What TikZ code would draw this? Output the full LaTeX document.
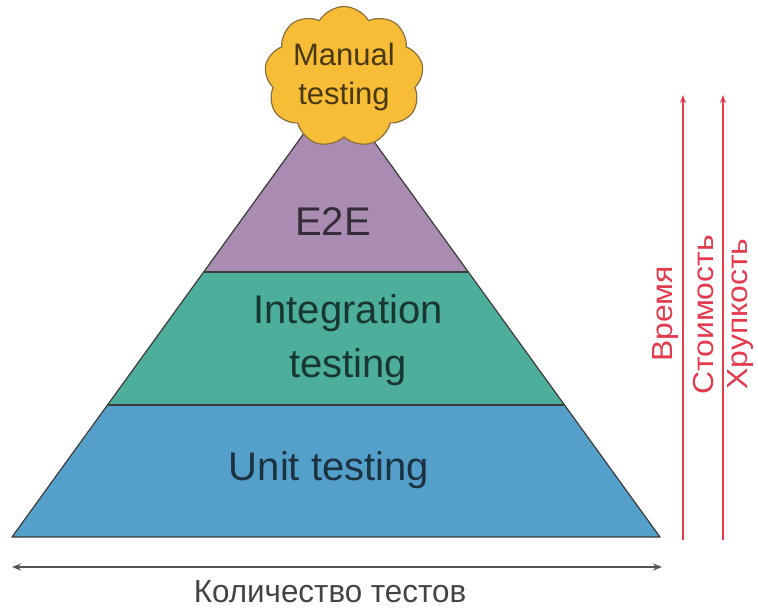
\documentclass[tikz,border=0pt]{standalone}
\usepackage{fontspec}
\setmainfont{Liberation Sans}
\usetikzlibrary{shapes.symbols,arrows.meta,calc}
\definecolor{e2ecol}{HTML}{AA8BB1}
\definecolor{intcol}{HTML}{4CAE9B}
\definecolor{unitcol}{HTML}{559FCB}
\definecolor{cloudfill}{HTML}{F8BD36}
\definecolor{clouddraw}{HTML}{8A6F3E}
\definecolor{edgecol}{HTML}{3C3C3C}
\definecolor{redcol}{HTML}{E33A4E}
\definecolor{graycol}{HTML}{555555}
\tikzset{
  band/.style={draw=edgecol, line width=1.2pt, line join=round},
  biglabel/.style={text=black, text opacity=0.68, font=\fontsize{40}{54}\selectfont, align=center, inner sep=0pt},
  redlabel/.style={text=redcol, font=\fontsize{29}{32}\selectfont, rotate=90, inner sep=0pt},
  redarrow/.style={draw=redcol, line width=1.6pt, -{Stealth[length=8pt,width=6pt]}},
  grayarrow/.style={draw=graycol, line width=2pt, {Stealth[length=9pt,width=7pt]}-{Stealth[length=9pt,width=7pt]}}
}
\begin{document}
\begin{tikzpicture}[x=1pt,y=-1pt]
\useasboundingbox (0,0) rectangle (758,610);
\coordinate (A) at (336,89);
\coordinate (BL) at (12,537);
\coordinate (BR) at (660,537);
\coordinate (L1) at ($(A)!0.4085!(BL)$);
\coordinate (R1) at ($(A)!0.4085!(BR)$);
\coordinate (L2) at ($(A)!0.7054!(BL)$);
\coordinate (R2) at ($(A)!0.7054!(BR)$);
% bands
\fill[unitcol] (L2) -- (R2) -- (BR) -- (BL) -- cycle;
\fill[intcol] (L1) -- (R1) -- (R2) -- (L2) -- cycle;
\fill[e2ecol] (A) -- (R1) -- (L1) -- cycle;
\draw[band] (A) -- (BR) -- (BL) -- cycle;
\draw[band] (L1) -- (R1);
\draw[band] (L2) -- (R2);
% labels
\node[biglabel, anchor=base] (e2e) at (333,235) {E2E};
\node[biglabel] (integ) at (348,340) {Integration\\testing};
\node[biglabel, anchor=base] (unit) at (329,480) {Unit testing};
% cloud
\node[cloud, cloud puffs=9, cloud puff arc=120, aspect=1.2, fill=cloudfill, draw=clouddraw, line width=1.2pt,
      minimum width=146pt, minimum height=122pt, inner sep=0pt, align=center,
      text=black, text opacity=0.7, font=\fontsize{31}{39}\selectfont] (manual) at (344,77) {Manual\\testing};
% red arrows
\coordinate (r1b) at (683,540);
\coordinate (r1t) at (683,95);
\coordinate (r2b) at (723,540);
\coordinate (r2t) at (723,95);
\draw[redarrow] (r1b) -- (r1t);
\draw[redarrow] (r2b) -- (r2t);
\node[redlabel] (time) at (666,314) {\scalebox{1.1}[1]{Время}};
\node[redlabel] (cost) at (704,315) {\scalebox{1.1}[1]{Стоимость}};
\node[redlabel] (frag) at (741,314) {\scalebox{1.1}[1]{Хрупкость}};
% bottom arrow
\coordinate (bl) at (12,567);
\coordinate (br) at (662,567);
\draw[grayarrow] (bl) -- (br);
\node[text=graycol!80!black, font=\fontsize{32}{36}\selectfont, inner sep=0pt, anchor=base] (count) at (330,602) {\scalebox{0.98}[1]{Количество тестов}};
\end{tikzpicture}
\end{document}
